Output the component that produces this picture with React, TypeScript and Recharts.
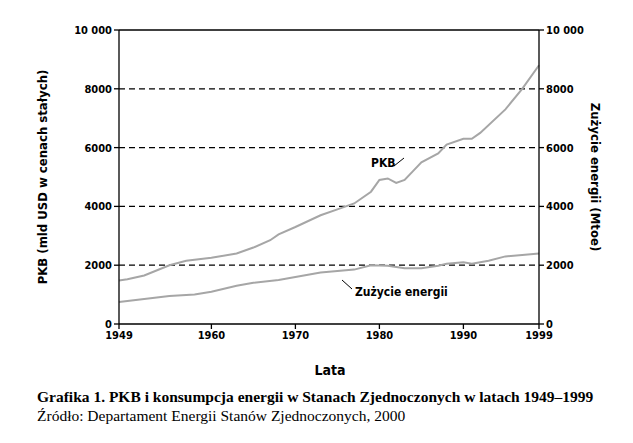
import React from 'react';
import { LineChart, Line, XAxis, YAxis, CartesianGrid, ReferenceLine } from 'recharts';

const gdpYears = [1949, 1950, 1952, 1955, 1957, 1960, 1963, 1965, 1967, 1968, 1970, 1973, 1975, 1977, 1979, 1980, 1981, 1982, 1983, 1984, 1985, 1987, 1988, 1990, 1991, 1992, 1995, 1997, 1999];
const gdpValues = [1480, 1520, 1650, 2000, 2150, 2250, 2400, 2600, 2850, 3050, 3300, 3700, 3900, 4100, 4500, 4900, 4950, 4800, 4900, 5200, 5500, 5800, 6100, 6300, 6300, 6500, 7300, 8000, 8800];

const energyYears = [1949, 1951, 1955, 1958, 1960, 1963, 1965, 1968, 1970, 1973, 1975, 1977, 1979, 1981, 1983, 1985, 1987, 1988, 1990, 1991, 1993, 1995, 1997, 1999];
const energyValues = [750, 820, 950, 1000, 1100, 1300, 1400, 1500, 1600, 1750, 1800, 1850, 2000, 1980, 1900, 1900, 1980, 2050, 2100, 2050, 2150, 2300, 2350, 2400];

const xTicks = [1949, 1960, 1970, 1980, 1990, 1999];
const yTicks = [0, 2000, 4000, 6000, 8000, 10000];
const gridValues = [2000, 4000, 6000, 8000];

const allYears = Array.from(new Set([...gdpYears, ...energyYears])).sort((a, b) => a - b);
const data = allYears.map((year) => {
  const gi = gdpYears.indexOf(year);
  const ei = energyYears.indexOf(year);
  return {
    year,
    gdp: gi >= 0 ? gdpValues[gi] : undefined,
    energy: ei >= 0 ? energyValues[ei] : undefined,
  };
});

const font = '"DejaVu Sans Condensed", "DejaVu Sans", sans-serif';
const fmt = (v: number) => (v === 10000 ? '10 000' : String(v));
const tickStyle = { fontSize: 11, fontWeight: 700, fill: '#000', fontFamily: font };

export default function App() {
  return (
    <div style={{ position: 'absolute', left: 0, top: 0, width: 633, height: 443, background: '#fff' }}>
      <LineChart width={633} height={370} data={data} margin={{ top: 30, right: 34, bottom: 0, left: 59 }}>
        <CartesianGrid yAxisId="l" horizontal vertical={false} horizontalValues={gridValues} stroke="#000" strokeDasharray="6 4" strokeWidth={1.3} />
        <ReferenceLine yAxisId="l" y={10000} stroke="#000" strokeWidth={1.3} />
        <XAxis dataKey="year" type="number" domain={[1949, 1999]} ticks={xTicks} tick={tickStyle}
          stroke="#000" strokeWidth={1.3} tickSize={5} height={46} />
        <YAxis yAxisId="l" domain={[0, 10000]} ticks={yTicks} tickFormatter={fmt} tick={tickStyle}
          stroke="#000" strokeWidth={1.3} tickSize={5} width={60} />
        <YAxis yAxisId="r" orientation="right" domain={[0, 10000]} ticks={yTicks} tickFormatter={fmt} tick={{ ...tickStyle, textAnchor: 'start' }}
          stroke="#000" strokeWidth={1.3} tickSize={5} width={60} />
        <Line yAxisId="l" dataKey="gdp" stroke="#a6a6a6" strokeWidth={2} dot={false} connectNulls isAnimationActive={false} />
        <Line yAxisId="r" dataKey="energy" stroke="#a6a6a6" strokeWidth={2} dot={false} connectNulls isAnimationActive={false} />
      </LineChart>
      <svg width={633} height={443} style={{ position: 'absolute', left: 0, top: 0, pointerEvents: 'none', fontFamily: font }}>
        <text x={47} y={177} transform="rotate(-90 47 177)" textAnchor="middle" fontSize={13} fontWeight={700}>PKB (mld USD w cenach stałych)</text>
        <text x={591} y={177} transform="rotate(90 591 177)" textAnchor="middle" fontSize={13} fontWeight={700}>Zużycie energii (Mtoe)</text>
        <text x={330} y={375} textAnchor="middle" fontSize={14} fontWeight={700}>Lata</text>
        <text x={371} y={167} fontSize={12} fontWeight={700}>PKB</text>
        <line x1={394} y1={166} x2={404} y2={158} stroke="#000" strokeWidth={1} />
        <text x={355} y={296} fontSize={12} fontWeight={700}>Zużycie energii</text>
        <line x1={352} y1={289} x2={342} y2={280} stroke="#000" strokeWidth={1} />
      </svg>
      <div style={{ position: 'absolute', left: 37, top: 387, fontFamily: '"Liberation Serif", serif', fontSize: 15.5, lineHeight: '19px', color: '#000' }}>
        <div style={{ fontWeight: 700 }}>Grafika 1. PKB i konsumpcja energii w Stanach Zjednoczonych w latach 1949–1999</div>
        <div>Źródło: Departament Energii Stanów Zjednoczonych, 2000</div>
      </div>
    </div>
  );
}
